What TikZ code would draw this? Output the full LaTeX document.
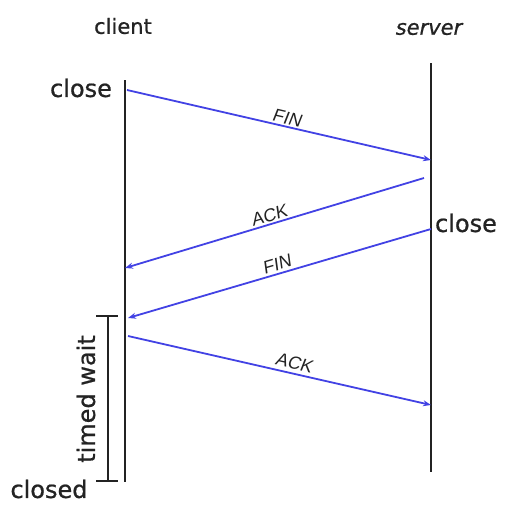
\documentclass[tikz,border=0pt]{standalone}
\usepackage{fontspec}
\setmainfont{DejaVu Sans}[FakeBold=0.8]
\newfontfamily\lblfont{Liberation Sans}[FakeSlant=0.15]
\usetikzlibrary{arrows.meta}
\definecolor{msgblue}{RGB}{66,66,228}
\definecolor{lifegray}{RGB}{35,35,35}
\begin{document}
\begin{tikzpicture}[x=1pt,y=-1pt,
  lifeline/.style={draw=lifegray,line width=1.6pt},
  msg/.style={draw=msgblue,line width=1.8pt,-{Stealth[length=8pt,width=6pt]}},
  msglabel/.style={font=\lblfont\fontsize{18}{18}\selectfont,text=lifegray,sloped,above,inner sep=1.5pt},
  headtext/.style={font=\fontsize{21}{21}\selectfont,text=lifegray},
  eventtext/.style={font=\fontsize{24}{24}\selectfont,text=lifegray}]
\useasboundingbox (0,0) rectangle (510,514);
% lifelines
\coordinate (ctop) at (125,80);
\coordinate (cbot) at (125,482);
\coordinate (stop) at (431,63);
\coordinate (sbot) at (431,472);
\draw[lifeline] (ctop) -- (cbot);
\draw[lifeline] (stop) -- (sbot);
% headers
\node[headtext] (client) at (123,26) {client};
\node[headtext,font=\fontsize{21}{21}\selectfont\itshape] (server) at (429,29) {server};
\node[eventtext] (close1) at (81,88) {close};
\node[eventtext] (close2) at (466,223) {close};
\node[eventtext] (closed) at (49,489) {closed};
% message endpoints
\coordinate (f1s) at (127,90);
\coordinate (f1e) at (431,160);
\coordinate (a1s) at (424,178);
\coordinate (a1e) at (125,268);
\coordinate (f2s) at (431,229);
\coordinate (f2e) at (128,318);
\coordinate (a2s) at (128,336);
\coordinate (a2e) at (431,405);
\draw[msg] (f1s) -- node[msglabel,pos=0.52] (finlab1) {FIN} (f1e);
\draw[msg] (a1s) -- node[msglabel,pos=0.51] (acklab1) {ACK} (a1e);
\draw[msg] (f2s) -- node[msglabel,pos=0.5,inner sep=2.5pt] (finlab2) {FIN} (f2e);
\draw[msg] (a2s) -- node[msglabel,pos=0.54,inner sep=3.5pt] (acklab2) {ACK} (a2e);
% timed wait bracket
\coordinate (btop) at (108,316);
\coordinate (bbot) at (108,481);
\draw[lifeline] (btop) -- (bbot);
\draw[lifeline] ([xshift=-12pt]btop) -- ([xshift=10pt]btop);
\draw[lifeline] ([xshift=-12pt]bbot) -- ([xshift=10pt]bbot);
\node[eventtext,rotate=90] (tw) at (86,399) {timed wait};
\end{tikzpicture}
\end{document}
